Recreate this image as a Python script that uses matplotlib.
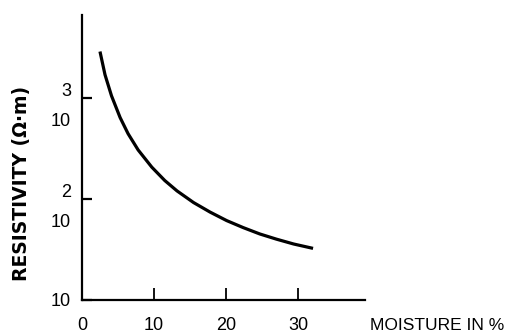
import matplotlib
matplotlib.use("Agg")
import matplotlib.pyplot as plt

# resistivity of soil against moisture content, read on a log scale
moisture = [2.5, 3.2, 4.1, 5.3, 6.4, 7.8, 9.7, 11.5, 13.2, 15.5, 17.8, 20.1, 22.4, 24.7, 27.0, 29.4, 32.1]
resistivity = [2870, 1690, 1047, 637, 442, 305, 206, 152, 120, 92, 74, 61, 52, 45, 40, 35.8, 32.4]

x_ticks = [0, 10, 20, 30]
x_tick_labels = ["0", "10", "20", "30"]
y_ticks = [10, 100, 1000]
y_tick_labels = ["10", "2\n10", "3\n10"]

LABEL_FONT = ["Liberation Sans", "DejaVu Sans"]

fig = plt.figure(figsize=(5.07, 3.35), dpi=100)
fig.set_facecolor("white")
ax = fig.add_axes([0.1617, 0.1045, 0.558, 0.851])

ax.plot(moisture, resistivity, color="black", lw=2.3,
        solid_joinstyle="round", solid_capstyle="butt")

ax.set_yscale("log")
ax.set_xlim(0, 39.3)
ax.set_ylim(10, 10 ** 3.82)

# only the left and bottom spines are kept
ax.spines["top"].set_visible(False)
ax.spines["right"].set_visible(False)
for side in ("left", "bottom"):
    ax.spines[side].set_linewidth(1.6)
    ax.spines[side].set_color("black")

ax.minorticks_off()
ax.set_xticks(x_ticks)
ax.set_xticklabels(x_tick_labels, family=LABEL_FONT, fontsize=13)
ax.set_yticks(y_ticks)
ax.set_yticklabels(y_tick_labels, family=LABEL_FONT, fontsize=13,
                   multialignment="right", linespacing=2.0)
ax.tick_params(axis="x", direction="in", length=9, width=1.3, pad=12.5)
ax.tick_params(axis="y", direction="in", length=7, width=1.6, pad=8)

ax.set_xlabel("MOISTURE IN %", family=LABEL_FONT, fontsize=12.5, ha="left", va="center")
ax.xaxis.set_label_coords(1.018, -0.088)

ax.set_ylabel("RESISTIVITY (Ω·m)", family="DejaVu Sans", fontweight="bold",
              fontsize=13.5, va="center")
ax.yaxis.set_label_coords(-0.214, 0.41)

fig.savefig("out.png", dpi=100, facecolor="white")
